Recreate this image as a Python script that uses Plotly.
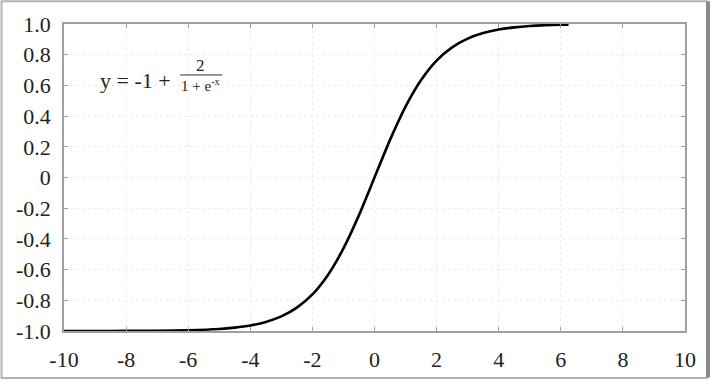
import plotly.graph_objects as go

# x positions and curve values (y = -1 + 2/(1+e^-x))
x_vals = [-10, -9, -8, -7, -6, -5, -4.5, -4, -3.5, -3, -2.5, -2, -1.5, -1, -0.5,
          0, 0.5, 1, 1.5, 2, 2.5, 3, 3.5, 4, 4.5, 5, 5.5, 6, 6.25]
y_vals = [-0.9999, -0.9998, -0.9993, -0.998, -0.995, -0.987, -0.978, -0.964, -0.941,
          -0.905, -0.848, -0.762, -0.635, -0.462, -0.245,
          0.0, 0.245, 0.462, 0.635, 0.762, 0.848, 0.905, 0.941, 0.964, 0.978,
          0.987, 0.992, 0.995, 0.996]

x_ticks = [-10, -8, -6, -4, -2, 0, 2, 4, 6, 8, 10]
y_ticks = [-1.0, -0.8, -0.6, -0.4, -0.2, 0, 0.2, 0.4, 0.6, 0.8, 1.0]
y_tick_text = ["-1.0", "-0.8", "-0.6", "-0.4", "-0.2", "0", "0.2", "0.4", "0.6", "0.8", "1.0"]

W, H = 713, 384
L, R, T, B = 64, 28, 24, 50

SERIF = "Liberation Serif, Times New Roman, serif"

fig = go.Figure()
fig.add_trace(go.Scatter(x=x_vals, y=y_vals, mode="lines",
                         line=dict(color="black", width=2.6, shape="spline", smoothing=0.6),
                         hoverinfo="skip", showlegend=False))

font = dict(family=SERIF, size=22, color="#222")

axis_common = dict(showgrid=True, gridcolor="#ececec", griddash="dot", gridwidth=1,
                   zeroline=False, showline=True, linecolor="#a0a0a0", linewidth=1.5,
                   mirror="ticks", ticks="inside", ticklen=4, tickcolor="#a0a0a0",
                   tickfont=font)

fig.update_xaxes(range=[-10, 10], tickvals=x_ticks, ticktext=[str(v) for v in x_ticks],
                 ticklabelstandoff=8, **axis_common)
fig.update_yaxes(range=[-1, 1], tickvals=y_ticks, ticktext=y_tick_text, ticklabelstandoff=7,
                 **axis_common)

pw, ph = W - L - R, H - T - B
# outer frame of the whole picture
fig.add_shape(type="rect", xref="paper", yref="paper",
              x0=-(L - 1.5) / pw, x1=1 + (R - 6) / pw, y0=-(B - 2.5) / ph, y1=1 + (T - 1) / ph,
              line=dict(color="#b4b4b4", width=2), layer="below")
fig.add_shape(type="line", xref="paper", yref="paper",
              x0=1 + (R - 5) / pw, x1=1 + (R - 5) / pw, y0=-(B - 3) / ph, y1=1 + (T - 1) / ph,
              line=dict(color="#8a8a8a", width=4))

# formula annotation
fig.add_annotation(x=-7.71, y=0.635, xref="x", yref="y", text="y = -1 +", showarrow=False,
                   font=dict(family=SERIF, size=22, color="#222"),
                   xanchor="center", yanchor="middle")
fig.add_annotation(x=-5.62, y=0.73, xref="x", yref="y", text="2", showarrow=False,
                   font=dict(family=SERIF, size=17, color="#222"),
                   xanchor="center", yanchor="middle")
fig.add_shape(type="line", xref="x", yref="y", x0=-6.26, x1=-4.9, y0=0.668, y1=0.668,
              line=dict(color="#333", width=1))
fig.add_annotation(x=-5.6, y=0.605, xref="x", yref="y", text="1 + e<sup>-x</sup>", showarrow=False,
                   font=dict(family=SERIF, size=15, color="#222"),
                   xanchor="center", yanchor="middle")

fig.update_layout(width=W, height=H, margin=dict(l=L, r=R, t=T, b=B),
                  paper_bgcolor="white", plot_bgcolor="white")

fig.write_html("out.html")
